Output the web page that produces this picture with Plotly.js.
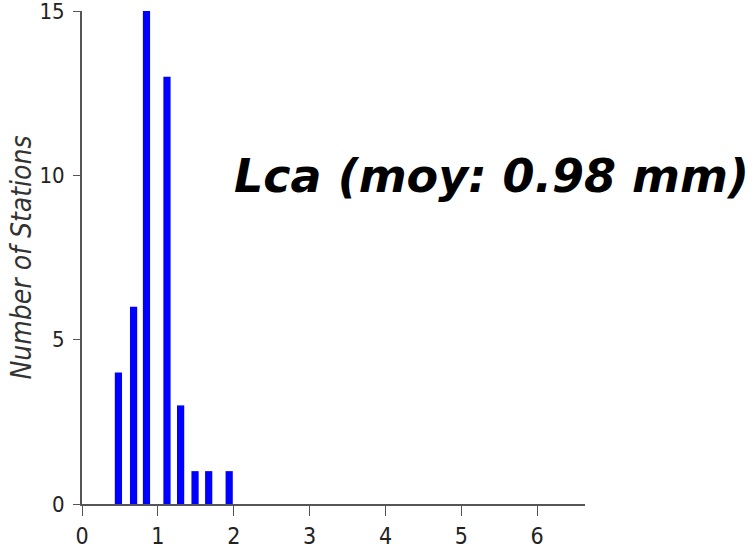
<!DOCTYPE html>
<html>
<head>
<meta charset="utf-8">
<script src="https://cdn.plot.ly/plotly-3.0.1.min.js"></script>
<style>html,body{margin:0;padding:0;background:#fff;}#chart{width:755px;height:554px;}</style>
</head>
<body>
<div id="chart"></div>
<script>
// Bin centres (mm) and station counts
const binCenters = [0.48, 0.68, 0.85, 1.12, 1.30, 1.49, 1.67, 1.94];
const stationCounts = [4, 6, 15, 13, 3, 1, 1, 1];
const xTickValues = [0, 1, 2, 3, 4, 5, 6];
const yTickValues = [0, 5, 10, 15];
const yAxisLabel = "Number of Stations";
const annotationText = "Lca (moy: 0.98 mm)";

const narrow = 'DejaVu Sans Condensed, Liberation Sans Narrow, Arial Narrow, sans-serif';

const trace = {
  type: 'bar',
  x: binCenters,
  y: stationCounts,
  width: 0.095,
  marker: {color: '#0000ff', line: {width: 0}},
  hoverinfo: 'x+y'
};

const layout = {
  width: 755, height: 554,
  margin: {l: 82, r: 170, t: 11, b: 50},
  paper_bgcolor: '#ffffff', plot_bgcolor: '#ffffff',
  showlegend: false,
  font: {family: narrow, color: '#222222', size: 23},
  xaxis: {
    range: [0, 6.63],
    tickvals: xTickValues,
    ticks: 'outside', ticklen: 10, tickwidth: 1, tickcolor: '#555555',
    showline: true, linecolor: '#555555', linewidth: 2,
    showgrid: false, zeroline: false,
    ticklabeloverflow: 'allow',
    tickfont: {family: narrow, size: 23, color: '#222222'}
  },
  yaxis: {
    range: [0, 15],
    tickvals: yTickValues,
    ticks: 'outside', ticklen: 7, tickwidth: 1, tickcolor: '#555555',
    showline: true, linecolor: '#555555', linewidth: 2,
    showgrid: false, zeroline: false,
    ticklabelstandoff: 4,
    ticklabeloverflow: 'allow',
    tickfont: {family: narrow, size: 22, color: '#222222'},
    title: {text: yAxisLabel, font: {family: narrow, size: 28, color: '#333333', style: 'italic'}, standoff: 0}
  },
  annotations: [{
    xref: 'paper', yref: 'paper',
    x: 1.33, y: 0.665, xanchor: 'right', yanchor: 'middle',
    text: '<b><i>' + annotationText + '</i></b>',
    showarrow: false,
    font: {family: 'DejaVu Sans, sans-serif', size: 46, color: '#000000'}
  }]
};

Plotly.newPlot('chart', [trace], layout, {displayModeBar: false, staticPlot: true});
</script>
</body>
</html>
